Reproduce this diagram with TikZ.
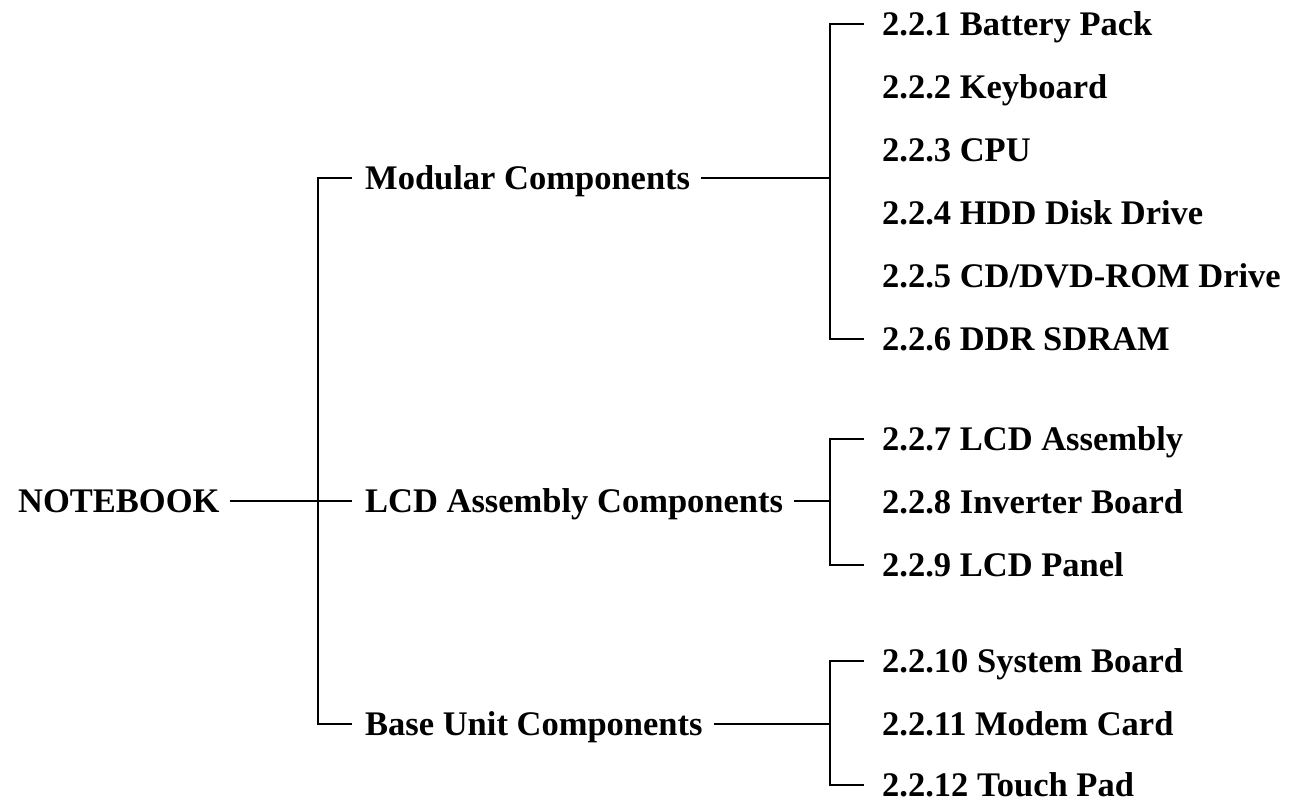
\documentclass[tikz,border=0pt]{standalone}
\usepackage{fontspec}
\setmainfont{Liberation Serif}

\begin{document}
\begin{tikzpicture}[x=1pt,y=-1pt,
    lbl/.style={anchor=west,inner sep=0pt,text height=22.8pt,text depth=0pt,
        font=\fontsize{34.5}{40}\selectfont\bfseries},
    branch/.style={line width=2pt}]
    \useasboundingbox (0,0) rectangle (1290,803);

    % Root and the three groups
    \node[lbl] (nb) at (18,501) {NOTEBOOK};
    \node[lbl] (mod) at (365,178) {Modular Components};
    \node[lbl] (lcd) at (365,501) {LCD Assembly Components};
    \node[lbl] (base) at (365,724) {Base Unit Components};

    % The parts of each group
    \foreach \n/\y/\t in {c1/24/{2.2.1 Battery Pack}, c2/87/{2.2.2 Keyboard},
            c3/150/{2.2.3 CPU}, c4/213/{2.2.4 HDD Disk Drive},
            c5/276/{2.2.5 CD/DVD-ROM Drive}, c6/339/{2.2.6 DDR SDRAM},
            c7/439/{2.2.7 LCD Assembly}, c8/502/{2.2.8 Inverter Board},
            c9/565/{2.2.9 LCD Panel}, c10/661/{2.2.10 System Board},
            c11/724/{2.2.11 Modem Card}, c12/785/{2.2.12 Touch Pad}}
        \node[lbl] (\n) at (882,\y) {\t};

    % Root to the groups
    \draw[branch,shorten <=10pt,shorten >=13pt] (nb.east) -- (lcd.west);
    \draw[branch] ([xshift=-13pt]mod.west) -| ([xshift=-47pt]base.west) -- ([xshift=-13pt]base.west);

    % Groups to their parts
    \foreach \g/\a/\b in {mod/c1/c6, lcd/c7/c9, base/c10/c12} {
        \coordinate (bar) at ([xshift=-52pt]\a.west);
        \draw[branch] ([xshift=-18pt]\a.west) -| ([xshift=-52pt]\b.west) -- ([xshift=-18pt]\b.west);
        \draw[branch,shorten <=11pt] (\g.east) -- (\g.east -| bar);
    }
\end{tikzpicture}
\end{document}
